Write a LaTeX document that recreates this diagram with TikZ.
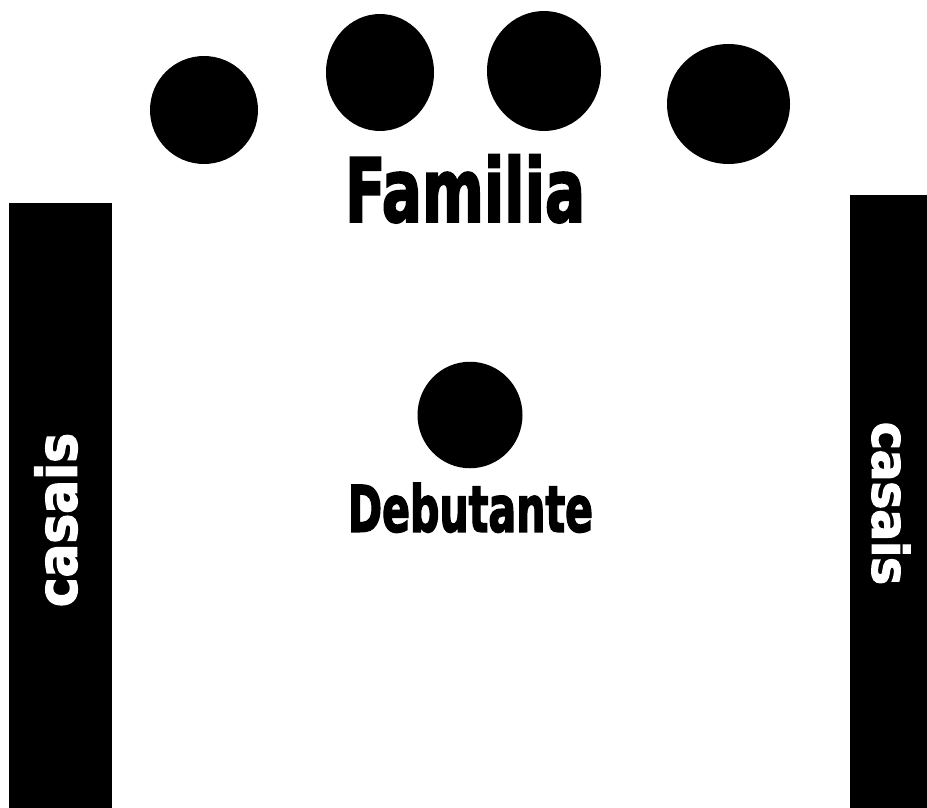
\documentclass[tikz,border=0pt]{standalone}
\usepackage{fontspec}
\newfontfamily\placafont{DejaVu Sans Condensed}[BoldFeatures={FakeBold=2.5}]
\usetikzlibrary{shapes.geometric,positioning}

\begin{document}
\begin{tikzpicture}[x=1pt,y=-1pt,
        lugar/.style = {ellipse,fill=black,inner sep=0pt},
        rotulo/.style = {inner sep=0pt,font=\placafont\bfseries}
        ]
        \useasboundingbox (0,0) rectangle (927,808);

        %Familia
        \node[lugar,minimum width=108pt,minimum height=108pt] (f1) at (204,110) {};
        \node[lugar,minimum width=108pt,minimum height=117pt] (f2) at (380,72.5) {};
        \node[lugar,minimum width=114pt,minimum height=120pt] (f3) at (544,71) {};
        \node[lugar,minimum width=123pt,minimum height=120pt] (f4) at (728.5,104) {};
        \node[rotulo,anchor=base] (familia) at (465,221.7) {\resizebox{240pt}{67pt}{Familia}};

        %Debutante
        \node[lugar,minimum width=105pt,minimum height=106.5pt] (deb) at (470,415) {};
        \node[rotulo,anchor=base] (debutante) at (470.5,531.7) {\resizebox{245pt}{48.7pt}{Debutante}};

        %Casais
        \fill (8.5,203) rectangle (111.5,808);
        \fill (850,194.5) rectangle (927,808);
        \node[rotulo,text=white,rotate=90] (casaisL) at (56,520) {\resizebox{174pt}{42pt}{casais}};
        \node[rotulo,text=white,rotate=-90] (casaisR) at (891,503.5) {\resizebox{163pt}{38pt}{casais}};

    \end{tikzpicture}
\end{document}
